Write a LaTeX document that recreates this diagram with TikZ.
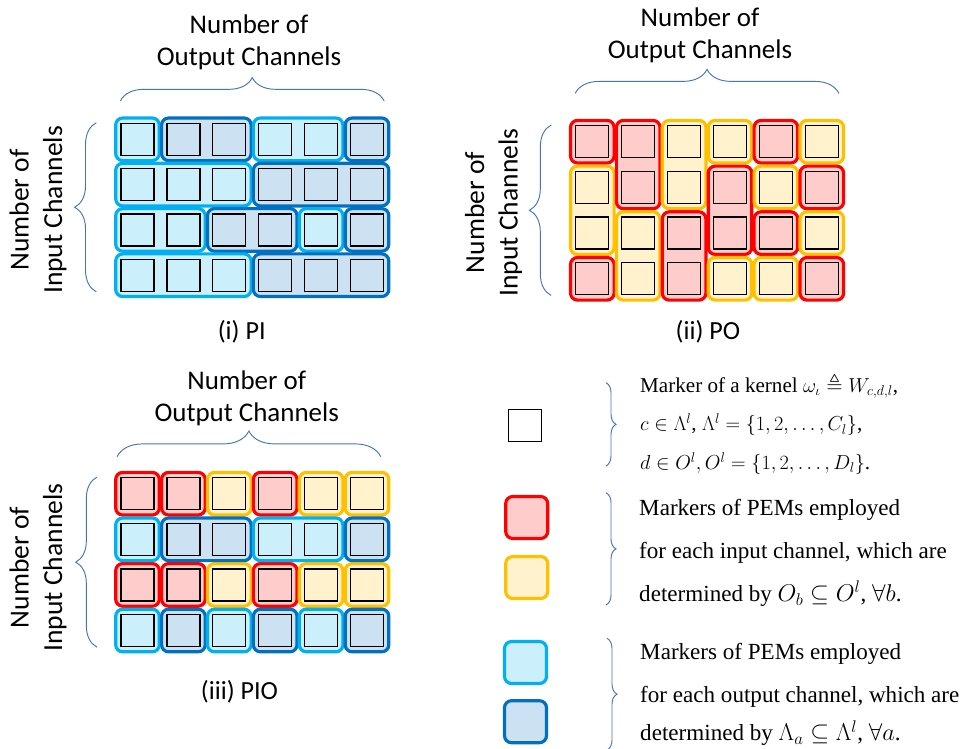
\documentclass[tikz,border=0pt]{standalone}
\usepackage{amsmath,amssymb}
\usepackage{fontspec}
\newfontfamily\calfont{Carlito}
\newfontfamily\legfont{Liberation Serif}
\usetikzlibrary{positioning,fit,backgrounds,decorations.pathreplacing}
\usepackage{xcolor}
\definecolor{pemred}{HTML}{FF0000}
\definecolor{pemyel}{HTML}{FFC000}
\definecolor{pemlb}{HTML}{00B0F0}
\definecolor{pemdb}{HTML}{0070C0}
\definecolor{bracecol}{HTML}{4472C4}

\begin{document}
\begin{tikzpicture}[
    x=0.03cm, y=-0.03cm,
    kernel/.style={draw=black, rectangle, line width=1.1pt, minimum width=0.99cm, minimum height=0.96cm, inner sep=0pt},
    pem/.style={draw, rectangle, rounded corners=6pt, line width=2.7pt, inner sep=0.14cm},
    pemr/.style={pem, draw=pemred, fill=pemred!20},
    pemy/.style={pem, draw=pemyel, fill=pemyel!20},
    peml/.style={pem, draw=pemlb, fill=pemlb!20},
    pemd/.style={pem, draw=pemdb, fill=pemdb!20},
    marker/.style={minimum size=1.26cm, inner sep=0pt},
    brace/.style={draw=bracecol, line width=0.8pt, decorate, decoration={brace, amplitude=#1}},
    head/.style={font=\calfont\fontsize{23}{27.3}\selectfont, align=center, inner sep=0pt},
    side/.style={font=\calfont\fontsize{23.5}{28.5}\selectfont, align=center, inner sep=0pt, rotate=90},
    caption/.style={font=\calfont\fontsize{22.3}{26}\selectfont, anchor=base, inner sep=0pt},
    legsmall/.style={anchor=base west, inner sep=0pt, font=\legfont\fontsize{18}{21}\selectfont},
    legtext/.style={anchor=base west, inner sep=0pt, font=\legfont\fontsize{19.7}{24}\selectfont}
]
    \useasboundingbox (0,0) rectangle (964,748);

    % Kernels
    \foreach \r in {1,...,4}
      \foreach \c in {1,...,6} {
        \node[kernel] (pi\r\c) at ({137.5+45.9*(\c-1)}, {139.3+45.3*(\r-1)}) {};
        \node[kernel] (po\r\c) at ({592.3+45.9*(\c-1)}, {141.7+45.7*(\r-1)}) {};
        \node[kernel] (pio\r\c) at ({137.5+45.9*(\c-1)}, {493.7+45.6*(\r-1)}) {};
      }

    % PEMs
    \begin{scope}[on background layer]
        % (i) PI
        \node[peml, fit=(pi11)] (gpi1) {};
        \node[pemd, fit=(pi12)(pi13)] (gpi2) {};
        \node[peml, fit=(pi14)(pi15)] (gpi3) {};
        \node[pemd, fit=(pi16)] (gpi4) {};
        \node[peml, fit=(pi21)(pi23)] (gpi5) {};
        \node[pemd, fit=(pi24)(pi26)] (gpi6) {};
        \node[peml, fit=(pi31)(pi32)] (gpi7) {};
        \node[pemd, fit=(pi33)(pi34)] (gpi8) {};
        \node[peml, fit=(pi35)] (gpi9) {};
        \node[pemd, fit=(pi36)] (gpi10) {};
        \node[peml, fit=(pi41)(pi43)] (gpi11) {};
        \node[pemd, fit=(pi44)(pi46)] (gpi12) {};
        % (ii) PO
        \node[pemr, fit=(po11)] (gpo1) {};
        \node[pemy, fit=(po21)(po31)] (gpo2) {};
        \node[pemr, fit=(po41)] (gpo3) {};
        \node[pemr, fit=(po12)(po22)] (gpo4) {};
        \node[pemy, fit=(po32)(po42)] (gpo5) {};
        \node[pemy, fit=(po13)(po23)] (gpo6) {};
        \node[pemr, fit=(po33)(po43)] (gpo7) {};
        \node[pemy, fit=(po14)] (gpo8) {};
        \node[pemr, fit=(po24)(po34)] (gpo9) {};
        \node[pemy, fit=(po44)] (gpo10) {};
        \foreach \r/\s in {1/pemr,2/pemy,3/pemr,4/pemy}
            \node[\s, fit=(po\r5)] (gpo5\r) {};
        \foreach \r/\s in {1/pemy,2/pemr,3/pemy,4/pemr}
            \node[\s, fit=(po\r6)] (gpo6\r) {};
        % (iii) PIO
        \foreach \c/\s in {1/pemr,2/pemr,3/pemy,4/pemr,5/pemy,6/pemy} {
            \node[\s, fit=(pio1\c)] (gpio1\c) {};
            \node[\s, fit=(pio3\c)] (gpio3\c) {};
        }
        \node[peml, fit=(pio21)] (gpio21) {};
        \node[pemd, fit=(pio22)(pio23)] (gpio22) {};
        \node[peml, fit=(pio24)(pio25)] (gpio24) {};
        \node[pemd, fit=(pio26)] (gpio26) {};
        \foreach \c/\s in {1/peml,2/pemd,3/peml,4/pemd,5/peml,6/pemd}
            \node[\s, fit=(pio4\c)] (gpio4\c) {};
    \end{scope}

    % Braces
    \draw[brace=0.7cm] ([yshift=0.65cm]pi11.north west) -- ([yshift=0.65cm]pi16.north east);
    \draw[brace=0.65cm] ([xshift=-0.72cm]pi41.south west) -- ([xshift=-0.72cm]pi11.north west);
    \draw[brace=0.72cm] ([yshift=0.95cm]po11.north west) -- ([yshift=0.95cm]po16.north east);
    \draw[brace=0.65cm] ([xshift=-0.72cm]po41.south west) -- ([xshift=-0.72cm]po11.north west);
    \draw[brace=0.77cm] ([xshift=-0.1cm, yshift=0.61cm]pio11.north west) -- ([xshift=-0.1cm, yshift=0.61cm]pio16.north east);
    \draw[brace=0.64cm] ([xshift=-0.7cm]pio41.south west) -- ([xshift=-0.7cm]pio11.north west);

    % Labels
    \node[head] (outi) at (249,42) {Number of\\Output Channels};
    \node[head] (outii) at (700,35) {Number of\\Output Channels};
    \node[head] (outiii) at (246.7,398) {Number of\\Output Channels};
    \node[side] (ini) at (38,210) {Number of\\Input Channels};
    \node[side] (inii) at (493.5,212.5) {Number of\\Input Channels};
    \node[side] (iniii) at (38,567.5) {Number of\\Input Channels};
    \node[caption] (capi) at (241.7,339.3) {(i) PI};
    \node[caption] (capii) at (708,339.3) {(ii) PO};
    \node[caption] (capiii) at (239.5,699.3) {(iii) PIO};

    % Legend
    \node[kernel, fill=white, line width=1.2pt] (lgk) at (525,425.5) {};
    \node[pemr, marker] (lgr) at (526.7,517.5) {};
    \node[pemy, marker] (lgy) at (526.7,577.5) {};
    \node[peml, marker] (lgl) at (525.5,662.5) {};
    \node[pemd, marker] (lgd) at (525.5,721.7) {};

    \coordinate (b1t) at (606,382.7);
    \coordinate (b1b) at (606,466);
    \coordinate (b2t) at (606,492.7);
    \coordinate (b2b) at (606,605);
    \coordinate (b3t) at (607,638.3);
    \coordinate (b3b) at (607,750);
    \draw[brace=0.3cm] (b1t) -- (b1b);
    \draw[brace=0.3cm] (b2t) -- (b2b);
    \draw[brace=0.3cm] (b3t) -- (b3b);

    \node[legsmall] (leg11) at (640,392.3) {Marker of a kernel $\omega_\iota \triangleq W_{c,d,l}$,};
    \node[legsmall] (leg12) at ([yshift=-1.16cm]leg11.base west) {$c \in \Lambda^l$, $\Lambda^l = \{1, 2, \dots, C_l\}$,};
    \node[legsmall] (leg13) at ([yshift=-1.16cm]leg12.base west) {$d \in O^l, O^l = \{1, 2, \dots, D_l\}$.};

    \node[legtext] (leg21) at (639,515) {Markers of PEMs employed};
    \node[legtext] (leg22) at ([yshift=-1.30cm]leg21.base west) {for each input channel, which are};
    \node[legtext] (leg23) at ([yshift=-1.30cm]leg22.base west) {determined by $O_b \subseteq O^l$, $\forall b$.};

    \node[legtext] (leg31) at (640,659.3) {Markers of PEMs employed};
    \node[legtext] (leg32) at ([yshift=-1.29cm]leg31.base west) {for each output channel, which are};
    \node[legtext] (leg33) at ([yshift=-1.16cm]leg32.base west) {determined by $\Lambda_a \subseteq \Lambda^l$, $\forall a$.};

\end{tikzpicture}
\end{document}
